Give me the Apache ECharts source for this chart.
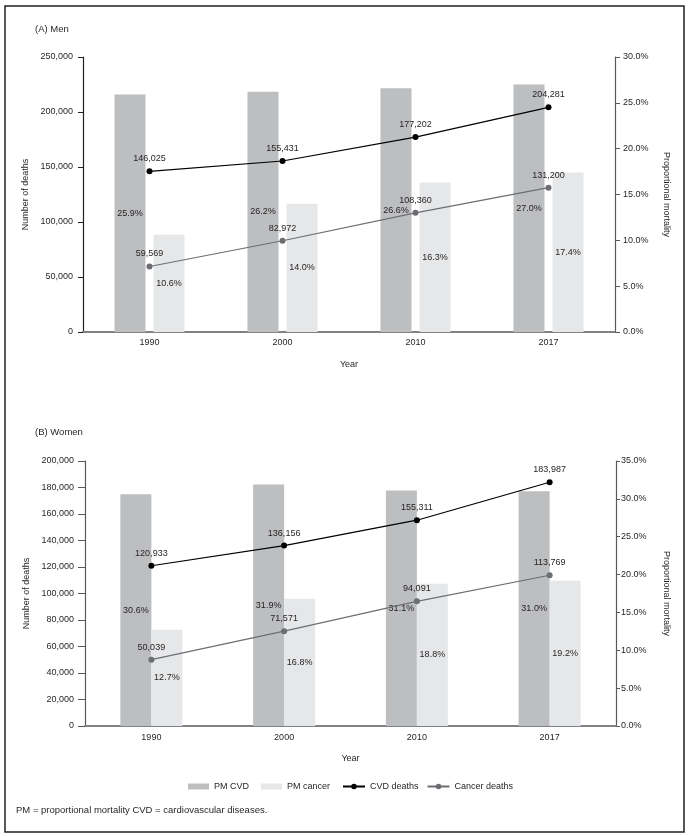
<!DOCTYPE html>
<html><head><meta charset="utf-8">
<script src="https://cdn.jsdelivr.net/npm/echarts@6/dist/echarts.min.js"></script>
<style>html,body{margin:0;padding:0;background:#fff}#c{width:692px;height:836px}</style>
</head><body><div id="c"></div>
<script>
const years = ['1990', '2000', '2010', '2017'];
const menCvdDeaths = [146025, 155431, 177202, 204281];
const menCancerDeaths = [59569, 82972, 108360, 131200];
const menPmCvd = [25.9, 26.2, 26.6, 27.0];
const menPmCancer = [10.6, 14.0, 16.3, 17.4];
const womenCvdDeaths = [120933, 136156, 155311, 183987];
const womenCancerDeaths = [50039, 71571, 94091, 113769];
const womenPmCvd = [30.6, 31.9, 31.1, 31.0];
const womenPmCancer = [12.7, 16.8, 18.8, 19.2];

const TXT = '#231f20';
const FONT = 'Liberation Sans';
const FS = 9;
const C_CVD_BAR = '#bcbec0', C_CAN_BAR = '#e6e7e8', C_CVD_LINE = '#000000', C_CAN_LINE = '#6d6e71';
const comma = v => Number(v).toLocaleString('en-US');
const pct = v => Number(v).toFixed(1) + '%';

function xAxisFor(g, margin) {
  return {
    gridIndex: g, type: 'category', data: years,
    axisLine: { lineStyle: { color: '#808285', width: 2 } },
    axisTick: { show: false },
    axisLabel: { color: TXT, fontSize: FS, fontFamily: FONT, margin: margin },
    name: 'Year', nameLocation: 'middle', nameGap: 28,
    nameTextStyle: { color: TXT, fontSize: FS, fontFamily: FONT }
  };
}
function leftAxis(g, max, interval, lineColor, tickLen, margin, gap) {
  return {
    gridIndex: g, type: 'value', position: 'left', min: 0, max: max, interval: interval,
    axisLine: { show: true, lineStyle: { color: lineColor, width: 1.2 } },
    axisTick: { show: true, length: tickLen, lineStyle: { color: lineColor } },
    axisLabel: { color: TXT, fontSize: FS, fontFamily: FONT, margin: margin, formatter: comma },
    splitLine: { show: false },
    name: 'Number of deaths', nameLocation: 'middle', nameGap: gap, nameRotate: 90,
    nameTextStyle: { color: TXT, fontSize: FS, fontFamily: FONT }
  };
}
function rightAxis(g, max, tickLen, margin, gap) {
  return {
    gridIndex: g, type: 'value', position: 'right', min: 0, max: max, interval: 5,
    axisLine: { show: true, lineStyle: { color: '#58595b', width: 1.2 } },
    axisTick: { show: true, length: tickLen, lineStyle: { color: '#58595b' } },
    axisLabel: { color: TXT, fontSize: FS, fontFamily: FONT, margin: margin, formatter: pct },
    splitLine: { show: false },
    name: 'Proportional mortality', nameLocation: 'middle', nameGap: gap, nameRotate: -90,
    nameTextStyle: { color: TXT, fontSize: FS, fontFamily: FONT }
  };
}
function barSeries(name, g, yIdx, data, color, gap) {
  return {
    name: name, type: 'bar', xAxisIndex: g, yAxisIndex: yIdx, data: data,
    barWidth: 31, barGap: gap, z: 1,
    itemStyle: { color: color },
    label: { show: true, position: 'inside', formatter: p => pct(p.value), color: TXT, fontSize: FS, fontFamily: FONT }
  };
}
function lineSeries(name, g, yIdx, data, color) {
  return {
    name: name, type: 'line', xAxisIndex: g, yAxisIndex: yIdx, data: data, z: 5,
    symbol: 'circle', symbolSize: 6, lineStyle: { color: color, width: 1.2 }, itemStyle: { color: color },
    label: { show: true, position: 'top', distance: 5, formatter: p => comma(p.value), color: TXT, fontSize: FS, fontFamily: FONT }
  };
}

const option = {
  animation: false,
  backgroundColor: '#ffffff',
  textStyle: { fontFamily: FONT },
  title: [
    { text: '(A) Men', left: 30, top: 19, textStyle: { color: TXT, fontSize: 9.5, fontWeight: 'normal', fontFamily: FONT } },
    { text: '(B) Women', left: 30, top: 422, textStyle: { color: TXT, fontSize: 9.5, fontWeight: 'normal', fontFamily: FONT } }
  ],
  grid: [
    { left: 83, width: 532, top: 57, height: 275 },
    { left: 85, width: 531, top: 461, height: 265 }
  ],
  xAxis: [xAxisFor(0, 6), xAxisFor(1, 7)],
  yAxis: [
    leftAxis(0, 250000, 50000, '#231f20', 5, 10, 51),
    rightAxis(0, 30, 5, 8, 47),
    leftAxis(1, 200000, 20000, '#58595b', 7, 11, 48),
    rightAxis(1, 35, 4, 5, 46)
  ],
  legend: [
    { data: ['PM CVD', 'PM cancer'], left: 183, top: 777, itemWidth: 21, itemHeight: 6, itemGap: 12, icon: 'rect',
      textStyle: { color: TXT, fontSize: FS, fontFamily: FONT } },
    { data: ['CVD deaths', 'Cancer deaths'], left: 337, top: 777, itemWidth: 22, itemHeight: 7, itemGap: 8,
      textStyle: { color: TXT, fontSize: FS, fontFamily: FONT } }
  ],
  series: [
    barSeries('PM CVD', 0, 1, menPmCvd, C_CVD_BAR, '26%'),
    barSeries('PM cancer', 0, 1, menPmCancer, C_CAN_BAR, '26%'),
    lineSeries('CVD deaths', 0, 0, menCvdDeaths, C_CVD_LINE),
    lineSeries('Cancer deaths', 0, 0, menCancerDeaths, C_CAN_LINE),
    barSeries('PM CVD', 1, 3, womenPmCvd, C_CVD_BAR, '0%'),
    barSeries('PM cancer', 1, 3, womenPmCancer, C_CAN_BAR, '0%'),
    lineSeries('CVD deaths', 1, 2, womenCvdDeaths, C_CVD_LINE),
    lineSeries('Cancer deaths', 1, 2, womenCancerDeaths, C_CAN_LINE)
  ],
  graphic: [
    { type: 'rect', shape: { x: 5, y: 6, width: 679, height: 826 }, style: { fill: 'none', stroke: '#231f20', lineWidth: 1.5 }, silent: true },
    { type: 'text', left: 16, top: 805, style: { text: 'PM = proportional mortality CVD = cardiovascular diseases.', fill: TXT, font: '9.5px "Liberation Sans"' } }
  ]
};
echarts.init(document.getElementById('c'), null, { renderer: 'canvas' }).setOption(option);
</script></body></html>
